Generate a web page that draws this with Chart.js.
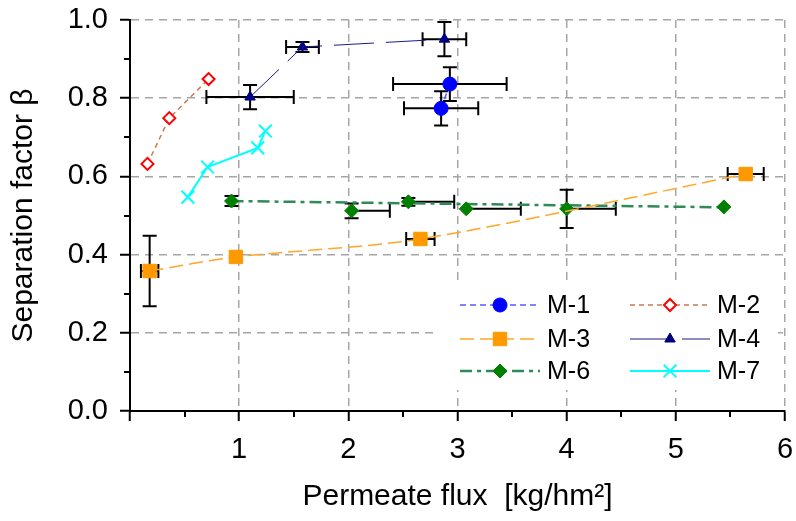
<!DOCTYPE html>
<html>
<head>
<meta charset="utf-8">
<script src="https://cdn.jsdelivr.net/npm/chart.js@4"></script>
<style>
  html, body { margin: 0; padding: 0; background: #fff; }
</style>
</head>
<body>
<canvas id="chart" width="796" height="521"></canvas>
<script>
// Separation factor vs permeate flux for membranes M-1 .. M-7

const FONT = "'Liberation Sans', Arial, sans-serif";

// M-1
const m1X = [2.93, 2.85];
const m1Y = [0.836, 0.774];
const m1XErr = [0.52, 0.34];
const m1YErr = [0.043, 0.044];

// M-2
const m2X = [0.16, 0.36, 0.72];
const m2Y = [0.632, 0.749, 0.849];

// M-3
const m3X = [0.18, 0.97, 2.66, 5.64];
const m3Y = [0.358, 0.394, 0.440, 0.606];
const m3XErr = [0.08, 0.0, 0.13, 0.165];
const m3YErr = [0.09, 0.0, 0.0, 0.0];

// M-4
const m4X = [1.10, 1.58, 2.88];
const m4Y = [0.803, 0.931, 0.951];
const m4XErr = [0.40, 0.15, 0.20];
const m4YErr = [0.031, 0.013, 0.044];

// M-6 (horizontal error bars only on the plus side)
const m6X = [0.93, 2.03, 2.55, 3.08, 4.00, 5.44];
const m6Y = [0.537, 0.512, 0.535, 0.517, 0.517, 0.522];
const m6XErrPlus = [0, 0.35, 0.42, 0.50, 0.45, 0];
const m6YErr = [0.013, 0.019, 0.01, 0, 0.049, 0];
// M-6 trend line ends
const m6TrendX = [0.93, 5.44];
const m6TrendY = [0.537, 0.521];

// M-7
const m7X = [0.53, 0.71, 1.17, 1.24];
const m7Y = [0.547, 0.624, 0.673, 0.716];

// axes
const xTicks = [0, 1, 2, 3, 4, 5, 6];
const yTicks = [0, 0.2, 0.4, 0.6, 0.8, 1.0];

function pts(xs, ys) {
    return xs.map((v, i) => ({ x: v, y: ys[i] }));
}

// Error bars, drawn under the markers
const errorBarPlugin = {
    id: 'errorBars',
    beforeDatasetsDraw(chart) {
        const { ctx } = chart;
        const xs = chart.scales.x, ys = chart.scales.y;
        const cap = 7;
        ctx.save();
        ctx.strokeStyle = '#000';
        ctx.lineWidth = 2;
        ctx.setLineDash([]);
        chart.data.datasets.forEach(ds => {
            if (!ds.errXPlus && !ds.errY) return;
            ds.data.forEach((p, i) => {
                const px = xs.getPixelForValue(p.x);
                const py = ys.getPixelForValue(p.y);
                const xm = ds.errXMinus ? ds.errXMinus[i] : 0;
                const xp = ds.errXPlus ? ds.errXPlus[i] : 0;
                const ye = ds.errY ? ds.errY[i] : 0;
                ctx.beginPath();
                if (xm > 0) {
                    const l = xs.getPixelForValue(p.x - xm);
                    ctx.moveTo(px, py); ctx.lineTo(l, py);
                    ctx.moveTo(l, py - cap); ctx.lineTo(l, py + cap);
                }
                if (xp > 0) {
                    const r = xs.getPixelForValue(p.x + xp);
                    ctx.moveTo(px, py); ctx.lineTo(r, py);
                    ctx.moveTo(r, py - cap); ctx.lineTo(r, py + cap);
                }
                if (ye > 0) {
                    const t = ys.getPixelForValue(p.y + ye);
                    const b = ys.getPixelForValue(p.y - ye);
                    ctx.moveTo(px, t); ctx.lineTo(px, b);
                    ctx.moveTo(px - cap, t); ctx.lineTo(px + cap, t);
                    ctx.moveTo(px - cap, b); ctx.lineTo(px + cap, b);
                }
                ctx.stroke();
            });
        });
        ctx.restore();
    }
};

// Minor tick marks between the major ones
const minorTickPlugin = {
    id: 'minorTicks',
    afterDraw(chart) {
        const { ctx, chartArea } = chart;
        const xs = chart.scales.x, ys = chart.scales.y;
        ctx.save();
        ctx.strokeStyle = '#000';
        ctx.lineWidth = 2;
        ctx.beginPath();
        for (let i = 0; i < xTicks.length - 1; i++) {
            const px = Math.round(xs.getPixelForValue((xTicks[i] + xTicks[i + 1]) / 2));
            ctx.moveTo(px, chartArea.bottom);
            ctx.lineTo(px, chartArea.bottom + 6);
        }
        for (let i = 0; i < yTicks.length - 1; i++) {
            const py = Math.round(ys.getPixelForValue((yTicks[i] + yTicks[i + 1]) / 2));
            ctx.moveTo(chartArea.left, py);
            ctx.lineTo(chartArea.left - 6, py);
        }
        ctx.stroke();
        ctx.restore();
    }
};

// Legend box inside the plot
const legendRows = [
    [{ label: 'M-1', line: 0, marker: 0 }, { label: 'M-2', line: 1, marker: 1 }],
    [{ label: 'M-3', line: 2, marker: 2 }, { label: 'M-4', line: 3, marker: 3 }],
    [{ label: 'M-6', line: 5, marker: 4 }, { label: 'M-7', line: 6, marker: 6 }]
];

const insideLegendPlugin = {
    id: 'insideLegend',
    afterDraw(chart) {
        const { ctx } = chart;
        const dsets = chart.data.datasets;
        ctx.save();
        ctx.fillStyle = '#fff';
        ctx.fillRect(438, 285, 340, 105);
        const colX = [460, 630];
        const rowY = [305, 339, 371];
        legendRows.forEach((row, r) => {
            row.forEach((item, c) => {
                const x0 = colX[c], y0 = rowY[r];
                const ld = dsets[item.line];
                const md = dsets[item.marker];
                ctx.save();
                ctx.strokeStyle = ld.borderColor;
                ctx.lineWidth = ld.borderWidth;
                ctx.setLineDash(ld.borderDash || []);
                ctx.beginPath();
                ctx.moveTo(x0, y0);
                ctx.lineTo(x0 + 80, y0);
                ctx.stroke();
                ctx.setLineDash([]);
                ctx.fillStyle = md.pointBackgroundColor;
                ctx.strokeStyle = md.pointBorderColor;
                ctx.lineWidth = md.pointBorderWidth;
                Chart.helpers.drawPoint(ctx, {
                    pointStyle: md.pointStyle,
                    radius: md.pointRadius,
                    borderWidth: md.pointBorderWidth,
                    rotation: 0
                }, x0 + 40, y0);
                ctx.restore();
                ctx.fillStyle = '#000';
                ctx.font = '25px ' + FONT;
                ctx.textBaseline = 'middle';
                ctx.fillText(item.label, x0 + 87, y0 + 1);
            });
        });
        ctx.restore();
    }
};

const datasets = [
    {
        label: 'M-1', data: pts(m1X, m1Y), showLine: true,
        borderColor: '#5a5aff', borderWidth: 1.5, borderDash: [6, 4],
        pointStyle: 'circle', pointRadius: 7,
        pointBackgroundColor: '#0000ff', pointBorderColor: '#0000ff', pointBorderWidth: 1,
        errXMinus: m1XErr, errXPlus: m1XErr, errY: m1YErr
    },
    {
        label: 'M-2', data: pts(m2X, m2Y), showLine: true,
        borderColor: '#c87a50', borderWidth: 1.5, borderDash: [5, 4],
        pointStyle: 'rectRot', pointRadius: 6,
        pointBackgroundColor: '#ffffff', pointBorderColor: '#ff0000', pointBorderWidth: 2
    },
    {
        label: 'M-3', data: pts(m3X, m3Y), showLine: true, tension: 0.3,
        borderColor: '#ffa726', borderWidth: 1.5, borderDash: [14, 6],
        pointStyle: 'rect', pointRadius: 9.5,
        pointBackgroundColor: '#ff9900', pointBorderColor: '#ff9900', pointBorderWidth: 1,
        errXMinus: m3XErr, errXPlus: m3XErr, errY: m3YErr
    },
    {
        label: 'M-4', data: pts(m4X, m4Y), showLine: true,
        borderColor: '#1a1a8c', borderWidth: 1, borderDash: [40, 12],
        pointStyle: 'triangle', pointRadius: 6,
        pointBackgroundColor: '#000080', pointBorderColor: '#000080', pointBorderWidth: 1,
        errXMinus: m4XErr, errXPlus: m4XErr, errY: m4YErr
    },
    {
        label: 'M-6', data: pts(m6X, m6Y), showLine: false,
        borderColor: '#2e8b57', borderWidth: 2.5, borderDash: [12, 5, 4, 5],
        pointStyle: 'rectRot', pointRadius: 7,
        pointBackgroundColor: '#008000', pointBorderColor: '#008000', pointBorderWidth: 1,
        errXPlus: m6XErrPlus, errY: m6YErr
    },
    {
        label: 'M-6 trend', data: pts(m6TrendX, m6TrendY), showLine: true,
        borderColor: '#2e8b57', borderWidth: 2.5, borderDash: [12, 5, 4, 5],
        pointRadius: 0
    },
    {
        label: 'M-7', data: pts(m7X, m7Y), showLine: true,
        borderColor: '#00ffff', borderWidth: 2,
        pointStyle: 'crossRot', pointRadius: 9,
        pointBackgroundColor: '#00ffff', pointBorderColor: '#00ffff', pointBorderWidth: 2
    }
];

new Chart(document.getElementById('chart'), {
    type: 'scatter',
    data: { datasets },
    plugins: [errorBarPlugin, minorTickPlugin, insideLegendPlugin],
    options: {
        responsive: false,
        animation: false,
        layout: { padding: { left: 0, right: 8, top: 20, bottom: 0 } },
        plugins: {
            legend: { display: false },
            tooltip: { enabled: false }
        },
        scales: {
            x: {
                type: 'linear', min: 0, max: 6,
                afterFit: s => {
                    s.height = 110;
                    s.paddingLeft = 0;
                    s.paddingRight = 0;
                },
                afterBuildTicks: s => { s.ticks = xTicks.map(v => ({ value: v })); },
                ticks: {
                    color: '#000', padding: 12, maxRotation: 0,
                    font: { family: FONT, size: 29 },
                    callback: v => (v === 0 ? '' : v)
                },
                grid: {
                    color: '#a6a6a6', lineWidth: 1.5,
                    tickColor: '#000', tickWidth: 2, tickLength: 10, tickBorderDash: []
                },
                border: { display: true, color: '#000', width: 2, dash: [8, 6] },
                title: {
                    display: true, text: 'Permeate flux  [kg/hm²]', color: '#000',
                    font: { family: FONT, size: 30 }, padding: { top: 0, bottom: 6 }
                }
            },
            y: {
                type: 'linear', min: 0, max: 1,
                afterFit: s => {
                    s.width = 130;
                    s.paddingTop = 0;
                    s.paddingBottom = 0;
                },
                afterBuildTicks: s => { s.ticks = yTicks.map(v => ({ value: v })); },
                ticks: {
                    color: '#000', padding: 12,
                    font: { family: FONT, size: 29 },
                    callback: v => v.toFixed(1)
                },
                grid: {
                    color: '#a6a6a6', lineWidth: 1.5,
                    tickColor: '#000', tickWidth: 2, tickLength: 10, tickBorderDash: []
                },
                border: { display: true, color: '#000', width: 2, dash: [8, 6] },
                title: {
                    display: true, text: 'Separation factor β', color: '#000',
                    font: { family: FONT, size: 30 }, padding: { top: 6, bottom: 0 }
                }
            }
        }
    }
});
</script>
</body>
</html>
